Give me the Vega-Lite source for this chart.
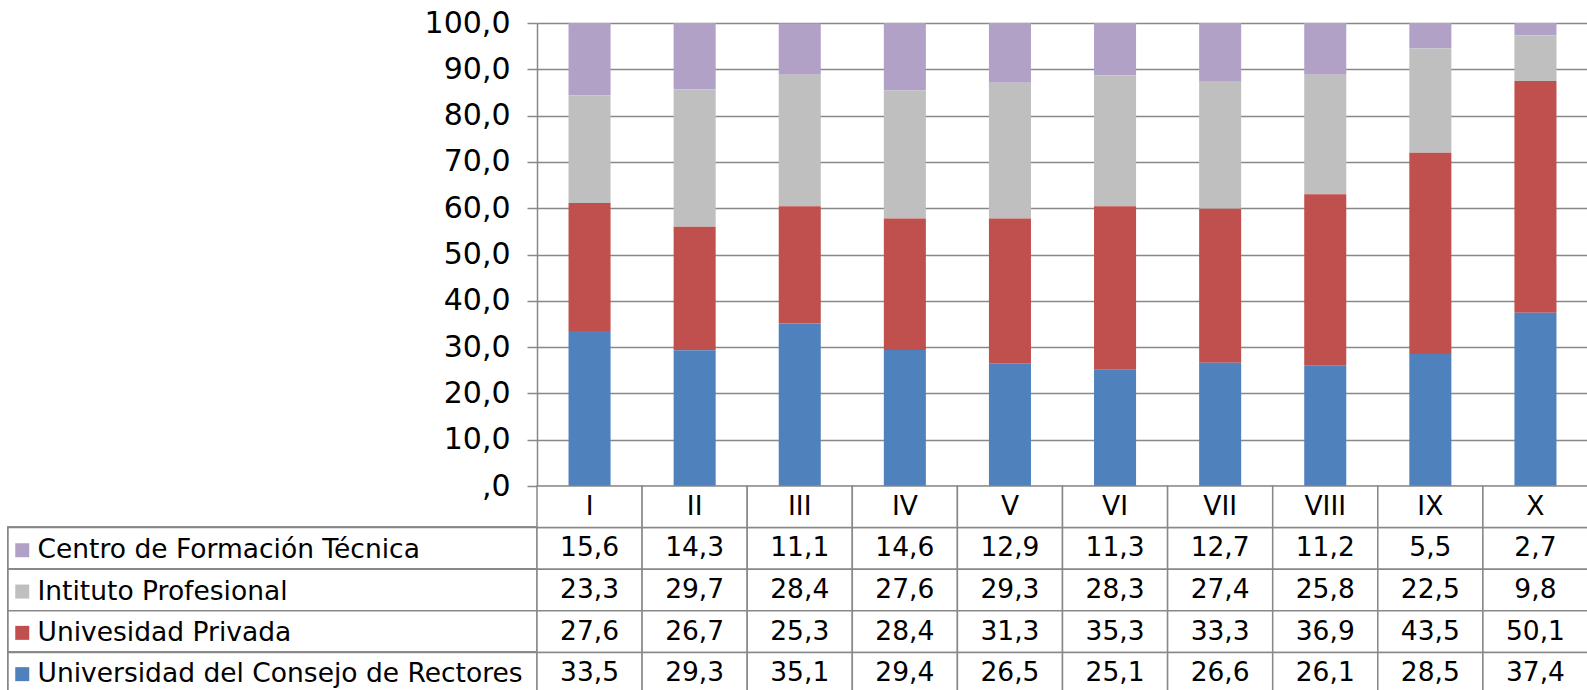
{
  "$schema": "https://vega.github.io/schema/vega-lite/v6.json",
  "padding": {"left": 7, "top": 8, "right": 0, "bottom": 0},
  "config": {
    "locale": {"number": {"decimal": ",", "thousands": ".", "grouping": [3], "currency": ["", " €"]}},
    "view": {"stroke": null},
    "font": "DejaVu Sans"
  },
  "bounds": "flush",
  "spacing": 0,
  "columns": 2,
  "data": {"values": [
    {"cat": "I", "series": "Centro de Formación Técnica", "ord": 4, "value": 15.6},
    {"cat": "II", "series": "Centro de Formación Técnica", "ord": 4, "value": 14.3},
    {"cat": "III", "series": "Centro de Formación Técnica", "ord": 4, "value": 11.1},
    {"cat": "IV", "series": "Centro de Formación Técnica", "ord": 4, "value": 14.6},
    {"cat": "V", "series": "Centro de Formación Técnica", "ord": 4, "value": 12.9},
    {"cat": "VI", "series": "Centro de Formación Técnica", "ord": 4, "value": 11.3},
    {"cat": "VII", "series": "Centro de Formación Técnica", "ord": 4, "value": 12.7},
    {"cat": "VIII", "series": "Centro de Formación Técnica", "ord": 4, "value": 11.2},
    {"cat": "IX", "series": "Centro de Formación Técnica", "ord": 4, "value": 5.5},
    {"cat": "X", "series": "Centro de Formación Técnica", "ord": 4, "value": 2.7},
    {"cat": "I", "series": "Intituto Profesional", "ord": 3, "value": 23.3},
    {"cat": "II", "series": "Intituto Profesional", "ord": 3, "value": 29.7},
    {"cat": "III", "series": "Intituto Profesional", "ord": 3, "value": 28.4},
    {"cat": "IV", "series": "Intituto Profesional", "ord": 3, "value": 27.6},
    {"cat": "V", "series": "Intituto Profesional", "ord": 3, "value": 29.3},
    {"cat": "VI", "series": "Intituto Profesional", "ord": 3, "value": 28.3},
    {"cat": "VII", "series": "Intituto Profesional", "ord": 3, "value": 27.4},
    {"cat": "VIII", "series": "Intituto Profesional", "ord": 3, "value": 25.8},
    {"cat": "IX", "series": "Intituto Profesional", "ord": 3, "value": 22.5},
    {"cat": "X", "series": "Intituto Profesional", "ord": 3, "value": 9.8},
    {"cat": "I", "series": "Univesidad Privada", "ord": 2, "value": 27.6},
    {"cat": "II", "series": "Univesidad Privada", "ord": 2, "value": 26.7},
    {"cat": "III", "series": "Univesidad Privada", "ord": 2, "value": 25.3},
    {"cat": "IV", "series": "Univesidad Privada", "ord": 2, "value": 28.4},
    {"cat": "V", "series": "Univesidad Privada", "ord": 2, "value": 31.3},
    {"cat": "VI", "series": "Univesidad Privada", "ord": 2, "value": 35.3},
    {"cat": "VII", "series": "Univesidad Privada", "ord": 2, "value": 33.3},
    {"cat": "VIII", "series": "Univesidad Privada", "ord": 2, "value": 36.9},
    {"cat": "IX", "series": "Univesidad Privada", "ord": 2, "value": 43.5},
    {"cat": "X", "series": "Univesidad Privada", "ord": 2, "value": 50.1},
    {"cat": "I", "series": "Universidad del Consejo de Rectores", "ord": 1, "value": 33.5},
    {"cat": "II", "series": "Universidad del Consejo de Rectores", "ord": 1, "value": 29.3},
    {"cat": "III", "series": "Universidad del Consejo de Rectores", "ord": 1, "value": 35.1},
    {"cat": "IV", "series": "Universidad del Consejo de Rectores", "ord": 1, "value": 29.4},
    {"cat": "V", "series": "Universidad del Consejo de Rectores", "ord": 1, "value": 26.5},
    {"cat": "VI", "series": "Universidad del Consejo de Rectores", "ord": 1, "value": 25.1},
    {"cat": "VII", "series": "Universidad del Consejo de Rectores", "ord": 1, "value": 26.6},
    {"cat": "VIII", "series": "Universidad del Consejo de Rectores", "ord": 1, "value": 26.1},
    {"cat": "IX", "series": "Universidad del Consejo de Rectores", "ord": 1, "value": 28.5},
    {"cat": "X", "series": "Universidad del Consejo de Rectores", "ord": 1, "value": 37.4}
  ]},
  "concat": [
    {
      "width": 529, "height": 463,
      "mark": {"type": "text"},
      "encoding": {"text": {"value": ""}}
    },
    {
      "width": 1051, "height": 463,
      "mark": {"type": "bar"},
      "encoding": {
        "x": {"field": "cat", "type": "nominal", "sort": ["I","II","III","IV","V","VI","VII","VIII","IX","X"],
              "scale": {"paddingInner": 0.6, "paddingOuter": 0.3}, "axis": null},
        "y": {"field": "value", "type": "quantitative", "stack": "zero",
              "scale": {"domain": [0, 100], "nice": false},
              "axis": {"values": [0,10,20,30,40,50,60,70,80,90,100], "format": ".1f",
                       "labelExpr": "datum.value == 0 ? ',0' : datum.label",
                       "grid": true, "gridColor": "#888888", "gridWidth": 1.5,
                       "domainColor": "#888888", "domainWidth": 1.5,
                       "tickColor": "#888888", "tickSize": 10, "tickWidth": 1.5,
                       "labelFontSize": 30, "labelColor": "#000000", "labelPadding": 17, "title": null}},
        "color": {"field": "series", "type": "nominal",
                  "scale": {"domain": ["Centro de Formación Técnica", "Intituto Profesional", "Univesidad Privada", "Universidad del Consejo de Rectores"],
                            "range": ["#B2A1C7", "#BFBFBF", "#C0504D", "#4F81BD"]},
                  "legend": {"title": null, "orient": "none", "legendX": 1, "legendY": 514,
                             "symbolType": "square", "symbolSize": 196, "symbolStrokeWidth": 0, "symbolOpacity": 1,
                             "labelFontSize": 26.5, "labelColor": "#000000", "labelLimit": 0, "labelOffset": 2,
                             "rowPadding": 14.3, "padding": 0}},
        "order": {"field": "ord", "type": "quantitative"}
      }
    },
    {
      "width": 529, "height": 208,
      "mark": {"type": "rect", "fill": "#ffffff", "stroke": "#888888", "strokeWidth": 1.5},
      "encoding": {
        "y": {"field": "series", "type": "nominal",
              "scale": {"type": "band", "domain": ["_hdr", "Centro de Formación Técnica", "Intituto Profesional", "Univesidad Privada", "Universidad del Consejo de Rectores"], "paddingInner": 0, "paddingOuter": 0},
              "axis": null}
      }
    },
    {
      "width": 1051, "height": 208,
      "encoding": {
        "x": {"field": "cat", "type": "nominal", "sort": ["I","II","III","IV","V","VI","VII","VIII","IX","X"],
              "scale": {"type": "band", "paddingInner": 0, "paddingOuter": 0}, "axis": null}
      },
      "layer": [
        {
          "mark": {"type": "rect", "fill": "#ffffff", "stroke": "#888888", "strokeWidth": 1.5},
          "encoding": {
            "y": {"field": "series", "type": "nominal",
                  "scale": {"type": "band", "domain": ["_hdr", "Centro de Formación Técnica", "Intituto Profesional", "Univesidad Privada", "Universidad del Consejo de Rectores"], "paddingInner": 0, "paddingOuter": 0},
                  "axis": null}
          }
        },
        {
          "transform": [{"filter": "datum.ord == 1"}],
          "mark": {"type": "rect", "fill": "#ffffff", "stroke": "#888888", "strokeWidth": 1.5},
          "encoding": {"y": {"datum": "_hdr", "type": "nominal"}}
        },
        {
          "mark": {"type": "text", "fontSize": 26.5, "color": "#000000"},
          "encoding": {
            "y": {"field": "series", "type": "nominal"},
            "text": {"field": "value", "type": "quantitative", "format": ".1f"}
          }
        },
        {
          "transform": [{"filter": "datum.ord == 1"}],
          "mark": {"type": "text", "fontSize": 26.5, "color": "#000000"},
          "encoding": {
            "y": {"datum": "_hdr", "type": "nominal"},
            "text": {"field": "cat", "type": "nominal"}
          }
        }
      ]
    }
  ]
}
